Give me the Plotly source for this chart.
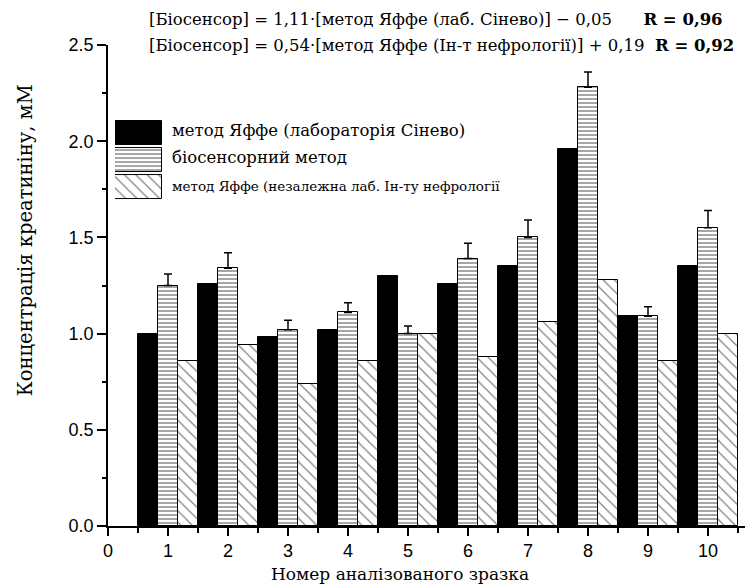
import plotly.graph_objects as go

samples = [1, 2, 3, 4, 5, 6, 7, 8, 9, 10]
tick_vals = [0, 1, 2, 3, 4, 5, 6, 7, 8, 9, 10]
jaffe_synevo = [1.00, 1.26, 0.98, 1.02, 1.30, 1.26, 1.35, 1.96, 1.09, 1.35]
biosensor = [1.25, 1.34, 1.02, 1.11, 1.00, 1.39, 1.50, 2.28, 1.09, 1.55]
biosensor_err = [0.06, 0.08, 0.05, 0.05, 0.04, 0.08, 0.09, 0.08, 0.05, 0.09]
jaffe_nephro = [0.86, 0.94, 0.74, 0.86, 1.00, 0.88, 1.06, 1.28, 0.86, 1.00]

names = ["метод Яффе (лабораторія Сінево)",
         "біосенсорний метод",
         "метод Яффе (незалежна лаб. Ін-ту нефрології"]

SERIF = "DejaVu Serif"
SANS = "Liberation Sans"
W = 1/3

fig = go.Figure()
fig.add_bar(x=samples, y=jaffe_synevo, width=W, offset=-0.5, name=names[0],
            marker=dict(color="black", line=dict(color="black", width=1)))
fig.add_bar(x=samples, y=biosensor, width=W, offset=-0.5 + W, name=names[1],
            marker=dict(color="white", line=dict(color="black", width=1),
                        pattern=dict(shape="-", size=4, solidity=0.35, fgcolor="black", bgcolor="white")),
            error_y=dict(type="data", symmetric=False, array=biosensor_err,
                         arrayminus=[0]*len(biosensor_err), color="black", thickness=1.5, width=4))
fig.add_bar(x=samples, y=jaffe_nephro, width=W, offset=-0.5 + 2*W, name=names[2],
            marker=dict(color="white", line=dict(color="black", width=1),
                        pattern=dict(shape="\\", size=8, solidity=0.15, fgcolor="black", bgcolor="white")))

# legend swatches drawn on a small helper axis
leg_rows = [3, 2, 1]
fig.add_bar(y=[leg_rows[0]], x=[1], orientation="h", width=0.9, xaxis="x2", yaxis="y2",
            marker=dict(color="black", line=dict(color="black", width=1)), showlegend=False, hoverinfo="skip")
fig.add_bar(y=[leg_rows[1]], x=[1], orientation="h", width=0.9, xaxis="x2", yaxis="y2",
            marker=dict(color="white", line=dict(color="black", width=1),
                        pattern=dict(shape="-", size=4, solidity=0.35, fgcolor="black", bgcolor="white")),
            showlegend=False, hoverinfo="skip")
fig.add_bar(y=[leg_rows[2]], x=[1], orientation="h", width=0.9, xaxis="x2", yaxis="y2",
            marker=dict(color="white", line=dict(color="black", width=1),
                        pattern=dict(shape="\\", size=8, solidity=0.15, fgcolor="black", bgcolor="white")),
            showlegend=False, hoverinfo="skip")

annotations = []
leg_y = [0.822, 0.766, 0.707]
leg_size = [16.5, 16.5, 13.5]
for i, nm in enumerate(names):
    annotations.append(dict(x=0.096, y=leg_y[i], xref="paper", yref="paper", text=nm,
                            showarrow=False, xanchor="left", yanchor="middle",
                            font=dict(family=SERIF, size=leg_size[i], color="black")))

annotations.append(dict(x=0.06, y=1.054, xref="paper", yref="paper",
                        text="[Біосенсор] = 1,11·[метод Яффе (лаб. Сінево)] − 0,05&nbsp;&nbsp;&nbsp;&nbsp;&nbsp;&nbsp;<b>R = 0,96</b>",
                        showarrow=False, xanchor="left", yanchor="middle",
                        font=dict(family=SERIF, size=16.5, color="black")))
annotations.append(dict(x=0.06, y=0.998, xref="paper", yref="paper",
                        text="[Біосенсор] = 0,54·[метод Яффе (Ін-т нефрології)] + 0,19&nbsp;&nbsp;<b>R = 0,92</b>",
                        showarrow=False, xanchor="left", yanchor="middle",
                        font=dict(family=SERIF, size=16.5, color="black")))
annotations.append(dict(x=0.453, y=-0.1, xref="paper", yref="paper",
                        text="Номер аналізованого зразка",
                        showarrow=False, xanchor="center", yanchor="middle",
                        font=dict(family=SERIF, size=17, color="black")))
annotations.append(dict(x=-0.128, y=0.595, xref="paper", yref="paper",
                        text="Концентрація креатиніну, мМ", textangle=-90,
                        showarrow=False, xanchor="center", yanchor="middle",
                        font=dict(family=SERIF, size=19.5, color="black")))

# page body has an 8px margin; the figure is sized so it fills the 753x587 window
fig.update_layout(
    width=745, height=579,
    margin=dict(l=100, r=0, t=37, b=61),
    paper_bgcolor="white", plot_bgcolor="white",
    showlegend=False, barmode="overlay", bargap=0,
    annotations=annotations,
    xaxis=dict(range=[0, 10.75], tickvals=tick_vals, ticktext=[str(v) for v in tick_vals],
               automargin=False,
               showline=True, linecolor="black", linewidth=1.5, ticks="outside", ticklen=8,
               tickwidth=1.5, tickcolor="black", showgrid=False, zeroline=False,
               minor=dict(dtick=0.5, tick0=0, ticks="outside", ticklen=5, tickwidth=1.5, tickcolor="black"),
               tickfont=dict(family=SANS, size=18, color="black")),
    yaxis=dict(range=[0, 2.5], tickvals=[0, 0.5, 1.0, 1.5, 2.0, 2.5],
               ticktext=["0.0", "0.5", "1.0", "1.5", "2.0", "2.5"],
               automargin=False,
               showline=True, linecolor="black", linewidth=1.5, ticks="outside", ticklen=9,
               tickwidth=1.5, tickcolor="black", showgrid=False, zeroline=False,
               minor=dict(dtick=0.25, tick0=0, ticks="outside", ticklen=4, tickwidth=1.5, tickcolor="black"),
               tickfont=dict(family=SANS, size=18, color="black")),
    xaxis2=dict(domain=[0.0109, 0.0837], range=[0, 1], visible=False, anchor="y2"),
    yaxis2=dict(domain=[0.678, 0.844], range=[0.5, 3.5], visible=False, anchor="x2"),
)

fig.write_html("out.html")
